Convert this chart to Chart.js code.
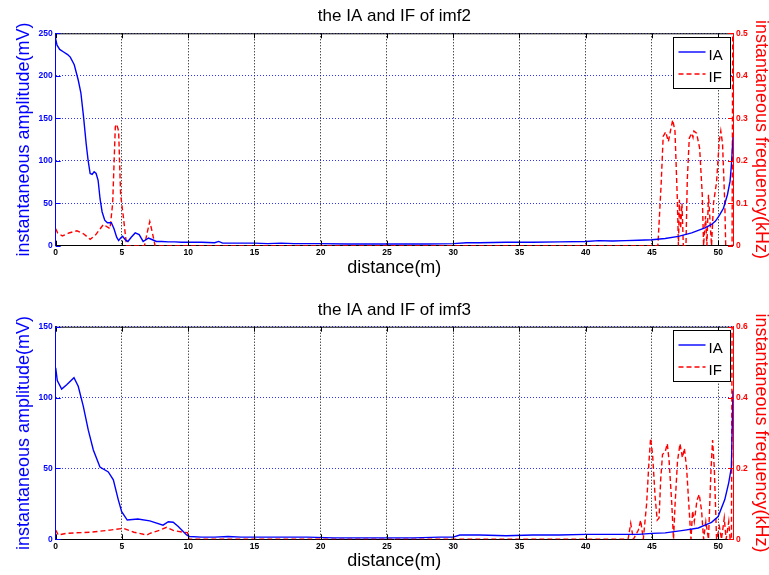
<!DOCTYPE html>
<html>
<head>
<meta charset="utf-8">
<title>the IA and IF of imf2 / imf3</title>
<script src="https://cdn.jsdelivr.net/npm/chart.js@4.4.1/dist/chart.umd.min.js"></script>
<style>
  html, body { margin: 0; padding: 0; background: #fff; }
  #wrap { position: relative; width: 769px; height: 575px; overflow: hidden; }
  canvas { position: absolute; left: 0; }
</style>
</head>
<body>
<div id="wrap">
  <canvas id="chartImf2" width="769" height="290" style="top:0"></canvas>
  <canvas id="chartImf3" width="769" height="285" style="top:290px"></canvas>
</div>
<script>
// --- imf2 : instantaneous amplitude (mV) ---
const imf2IADist = [0, 0.1, 0.3, 0.6, 0.9, 1.1, 1.4, 1.7, 1.9, 2.1, 2.3, 2.45, 2.6, 2.75, 2.9,
  3.05, 3.2, 3.35, 3.5, 3.7, 3.9, 4.2, 4.4, 4.6, 4.75, 4.9, 5.05, 5.25, 5.45, 5.7, 6.0, 6.3, 6.6,
  6.8, 7.0, 7.3, 7.6, 8.0, 8.5, 9.0, 9.5, 10, 11, 12, 12.3, 12.6, 13.5, 14.5, 15, 16, 17, 18, 19,
  20, 22, 24, 26, 28, 30, 31, 32, 34, 36, 38, 40, 41, 42, 43, 44, 45, 46, 47, 48, 49, 49.5, 49.8,
  50.1, 50.4, 50.7, 50.9, 51.0, 51.12];
const imf2IA = [243, 236, 231, 228, 225, 222, 213, 195, 180, 152, 120, 100, 85, 84, 87,
  85, 77, 55, 40, 30, 27, 27, 20, 10, 6, 9, 11, 7, 5, 10, 15, 13, 5,
  7, 9, 7, 5, 5, 4.5, 4.5, 4, 4, 4, 3.5, 5, 3, 3, 3, 3, 2.5, 3, 2.5, 2.5,
  2.5, 2, 2, 2, 2, 2.5, 3.5, 3.5, 4, 4, 4.5, 5, 6, 5.5, 6, 6.5, 7, 8.5, 11, 15, 21, 25, 29,
  36, 44, 60, 76, 95, 128];

// --- imf2 : instantaneous frequency (kHz) ---
const imf2IFDist = [0, 0.15, 0.5, 1.0, 1.6, 2.1, 2.6, 3.0, 3.6, 4.1, 4.3, 4.5, 4.6, 4.75, 4.9,
  5.1, 5.35, 6.7, 6.9, 7.1, 7.3, 7.5, 45.45, 45.7, 45.85, 46.04, 46.24, 46.42, 46.57, 46.74,
  46.92, 47.0, 47.07, 47.17, 47.27, 47.37, 47.57, 47.67, 47.82, 48.0, 48.1, 48.17, 48.37, 48.6,
  48.8, 48.9, 49.05, 49.15, 49.27, 49.4, 49.5, 49.65, 49.88, 50.08, 50.2, 50.33, 50.5, 50.57,
  51.05, 51.1, 51.12];
const imf2IF = [0.04, 0.03, 0.023, 0.03, 0.035, 0.028, 0.015, 0.025, 0.05, 0.04, 0.1, 0.28, 0.286, 0.27, 0.12,
  0.07, 0, 0, 0.03, 0.057, 0.03, 0, 0, 0.147, 0.257, 0.268, 0.245, 0.273, 0.296, 0.27,
  0.108, 0, 0.108, 0.04, 0.1, 0, 0, 0.155, 0.253, 0.265, 0.255, 0.27, 0.265, 0.23,
  0.12, 0, 0.07, 0, 0.12, 0.05, 0, 0.1, 0.15, 0.245, 0.27, 0.24, 0.1, 0,
  0, 0.5, 0.5];

// --- imf3 : instantaneous amplitude (mV) ---
const imf3IADist = [0, 0.12, 0.45, 0.83, 1.38, 1.7, 2.08, 2.46, 2.84, 3.34, 3.97, 4.35, 4.72,
  4.98, 5.4, 6.2, 7.1, 8.1, 8.5, 8.87, 9.25, 9.88, 10.1, 11, 12, 13, 14, 15, 17, 19, 21, 23, 25,
  27, 29, 30, 30.5, 32, 34, 36, 38, 40, 42, 44, 45, 46, 47.5, 48.5, 49, 49.5, 50, 50.5, 50.8,
  51.0, 51.12];
const imf3IA = [121, 112, 106, 109, 114, 108, 94, 77, 63, 51, 47.5, 42, 28,
  19.5, 13.6, 14.3, 13, 10, 12.4, 12, 9, 3, 2, 1.5, 1.5, 2, 1.5, 1.5, 1.5, 1.5, 1, 1, 1,
  1, 1.5, 1.5, 3, 3, 2.5, 3, 3, 3.5, 3.5, 3.5, 4.2, 4.5, 6.5, 8, 10, 12, 16, 28, 40,
  51, 105];

// --- imf3 : instantaneous frequency (kHz) ---
const imf3IFDist = [0, 0.2, 0.8, 2.6, 4.1, 5.1, 5.9, 6.9, 7.12, 7.87, 8.37, 8.87, 9.63, 9.95,
  10.05, 43.2, 43.4, 43.6, 43.98, 44.15, 44.35, 44.6, 44.78, 44.9, 45.05, 45.24, 45.4, 45.54,
  45.66, 45.8, 45.99, 46.16, 46.3, 46.5, 46.63, 46.75, 46.93, 47.12, 47.3, 47.45, 47.62, 47.8,
  47.95, 48.07, 48.2, 48.4, 48.57, 48.75, 48.9, 49.07, 49.27, 49.46, 49.58, 49.71, 49.88, 50.1,
  50.25, 50.46, 50.6, 50.8, 50.9, 51.0, 51.05, 51.12];
const imf3IF = [0.026, 0.012, 0.017, 0.02, 0.026, 0.031, 0.02, 0.012, 0.017, 0.026, 0.034, 0.025, 0.02, 0.019,
  0, 0, 0.045, 0, 0.026, 0.054, 0, 0.1, 0.22, 0.285, 0.24, 0.12, 0.054, 0.06,
  0.167, 0.24, 0.245, 0.27, 0.22, 0.1, 0, 0.1, 0.22, 0.27, 0.23, 0.257, 0.2, 0.09,
  0, 0.08, 0.05, 0.11, 0.127, 0.08, 0, 0.05, 0, 0.196, 0.28, 0.2, 0, 0.035,
  0, 0.06, 0, 0.05, 0, 0, 0.6, 0.6];

const xTicks = { min: 0, max: 51.12, step: 5 };
const FONT = "'Liberation Sans', Arial, Helvetica, sans-serif";
const BLUE = '#0000ff';
const RED = '#ff0000';

Chart.defaults.font.family = FONT;

function toPoints(xs, ys) {
  return xs.map((x, i) => ({ x: x, y: ys[i] }));
}

// MATLAB style: ticks pointing inwards + black top frame
const inwardTicks = {
  id: 'inwardTicks',
  afterDraw(chart) {
    const { ctx, chartArea: a, scales } = chart;
    const len = 5;
    ctx.save();
    ctx.lineWidth = 1;
    ctx.setLineDash([]);
    ctx.strokeStyle = '#000';
    ctx.beginPath();
    ctx.moveTo(a.left, a.top + 0.5);
    ctx.lineTo(a.right, a.top + 0.5);
    scales.x.ticks.forEach(t => {
      const px = Math.round(scales.x.getPixelForValue(t.value)) + 0.5;
      ctx.moveTo(px, a.bottom);
      ctx.lineTo(px, a.bottom - len);
      ctx.moveTo(px, a.top);
      ctx.lineTo(px, a.top + len);
    });
    ctx.stroke();
    [['y', BLUE, a.left, 1], ['y1', RED, a.right, -1]].forEach(([id, col, x0, dir]) => {
      const s = scales[id];
      ctx.strokeStyle = col;
      ctx.beginPath();
      s.ticks.forEach(t => {
        const py = Math.round(s.getPixelForValue(t.value)) + 0.5;
        ctx.moveTo(x0, py);
        ctx.lineTo(x0 + dir * len, py);
      });
      ctx.stroke();
    });
    ctx.restore();
  }
};

// boxed legend in the upper right corner of the plot
const boxLegend = {
  id: 'boxLegend',
  afterDraw(chart) {
    const { ctx, chartArea: a } = chart;
    const w = 57, h = 51;
    const x0 = Math.round(a.right - 60.5), y0 = Math.round(a.top + 3.5);
    ctx.save();
    ctx.fillStyle = '#fff';
    ctx.fillRect(x0, y0, w, h);
    ctx.strokeStyle = '#000';
    ctx.lineWidth = 1;
    ctx.strokeRect(x0 + 0.5, y0 + 0.5, w, h);
    chart.data.datasets.forEach((ds, i) => {
      const yText = y0 + 22.5 + i * 22;
      ctx.strokeStyle = ds.borderColor;
      ctx.lineWidth = ds.borderWidth;
      ctx.setLineDash(ds.borderDash || []);
      ctx.beginPath();
      ctx.moveTo(x0 + 5.5, yText - 7.5);
      ctx.lineTo(x0 + 32.5, yText - 7.5);
      ctx.stroke();
      ctx.setLineDash([]);
      ctx.fillStyle = '#000';
      ctx.font = '15px ' + FONT;
      ctx.textBaseline = 'alphabetic';
      ctx.fillText(ds.label, x0 + 35.5, yText);
    });
    ctx.restore();
  }
};

function makeChart(canvasId, opts) {
  return new Chart(document.getElementById(canvasId), {
    type: 'line',
    data: {
      datasets: [{
        label: 'IA',
        data: toPoints(opts.iaDist, opts.ia),
        yAxisID: 'y',
        borderColor: BLUE,
        borderWidth: 1.4,
        pointRadius: 0,
        tension: 0
      }, {
        label: 'IF',
        data: toPoints(opts.ifDist, opts.iF),
        yAxisID: 'y1',
        borderColor: RED,
        borderWidth: 1.4,
        borderDash: [5, 3],
        pointRadius: 0,
        tension: 0
      }]
    },
    options: {
      responsive: false,
      animation: false,
      events: [],
      layout: { padding: 0 },
      plugins: {
        legend: { display: false },
        tooltip: { enabled: false },
        title: {
          display: true,
          text: opts.title,
          color: '#000',
          fullSize: false,
          font: { size: 17, weight: 'normal' },
          padding: opts.titlePad
        }
      },
      scales: {
        x: {
          type: 'linear',
          min: xTicks.min,
          max: xTicks.max,
          afterFit: s => { s.height = opts.xHeight; },
          ticks: {
            stepSize: xTicks.step,
            includeBounds: false,
            color: '#000',
            padding: 2,
            maxRotation: 0,
            font: { size: 8.5, weight: 'bold' }
          },
          grid: { color: '#000', drawTicks: false },
          border: { color: '#000', width: 1, dash: [1, 2] },
          title: {
            display: true,
            text: 'distance(m)',
            color: '#000',
            font: { size: 18, lineHeight: 1 },
            padding: { top: 0, bottom: opts.xTitlePad }
          }
        },
        y: {
          position: 'left',
          min: 0,
          max: opts.leftMax,
          afterFit: s => { s.width = 55.7; },
          ticks: {
            stepSize: opts.leftStep,
            color: BLUE,
            padding: 3,
            font: { size: 8.5, weight: 'bold' }
          },
          grid: { color: 'rgba(0,0,255,0.8)', drawTicks: false },
          border: { color: BLUE, width: 1, dash: [1, 2] },
          title: {
            display: true,
            text: 'instantaneous amplitude(mV)',
            color: BLUE,
            font: { size: 18, lineHeight: 1 },
            padding: { top: 14.8, bottom: 0 }
          }
        },
        y1: {
          position: 'right',
          min: 0,
          max: opts.rightMax,
          afterFit: s => { s.width = 36; },
          ticks: {
            stepSize: opts.rightStep,
            color: RED,
            padding: 3,
            font: { size: 8.5, weight: 'bold' }
          },
          grid: { drawOnChartArea: false, drawTicks: false },
          border: { color: RED, width: 1 },
          title: {
            display: true,
            text: 'instantaneous frequency(kHz)',
            color: RED,
            font: { size: 18, lineHeight: 0.87 },
            padding: { top: 0, bottom: 0 }
          }
        }
      }
    },
    plugins: [inwardTicks, boxLegend]
  });
}

makeChart('chartImf2', {
  title: 'the IA and IF of imf2',
  titlePad: { top: 5.8, bottom: 7.1 },
  xHeight: 44.3,
  xTitlePad: 12.5,
  iaDist: imf2IADist, ia: imf2IA,
  ifDist: imf2IFDist, iF: imf2IF,
  leftMax: 250, leftStep: 50,
  rightMax: 0.5, rightStep: 0.1
});

makeChart('chartImf3', {
  title: 'the IA and IF of imf3',
  titlePad: { top: 9.8, bottom: 6.5 },
  xHeight: 35.7,
  xTitlePad: 4.5,
  iaDist: imf3IADist, ia: imf3IA,
  ifDist: imf3IFDist, iF: imf3IF,
  leftMax: 150, leftStep: 50,
  rightMax: 0.6, rightStep: 0.2
});
</script>
</body>
</html>
